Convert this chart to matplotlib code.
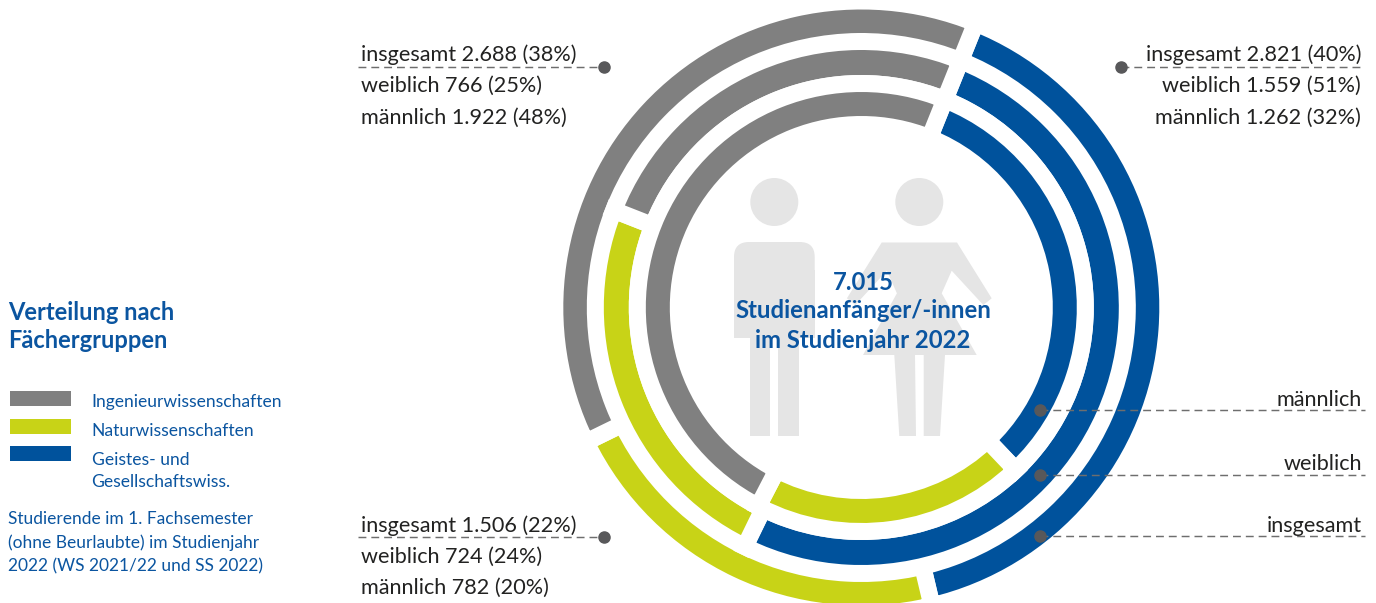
import matplotlib
matplotlib.use('Agg')
import matplotlib.pyplot as plt
from matplotlib.patches import Circle, Polygon, FancyBboxPatch, Rectangle

plt.rcParams['font.family'] = ['Lato', 'DejaVu Sans']

# order in each ring: Geistes, Natur, Ingenieur (clockwise from the top gap)
fields = ['Geistes- und\nGesellschaftswiss.', 'Naturwissenschaften', 'Ingenieurwissenschaften']
colors = ['#00529C', '#C8D317', '#808080']
insgesamt = [2821, 1506, 2688]
weiblich = [1559, 724, 766]
maennlich = [1262, 782, 1922]
pct_ges = [40, 22, 38]
pct_w = [51, 24, 25]
pct_m = [32, 20, 48]

BLUE = '#0B55A0'
DARK = '#222221'
DOT = '#58585A'
SIL = '#E5E5E5'


def num(v):
    return f'{v:,}'.replace(',', '.')


fig = plt.figure(figsize=(13.76, 6.03), dpi=100)
ax = fig.add_axes([0, 0, 1, 1])

# silhouettes behind the rings
ax.add_patch(Circle((774.3, 202), 24, fc=SIL, ec='none', zorder=1))
ax.add_patch(FancyBboxPatch((749, 257), 50.7, 66, boxstyle='round,pad=15', fc=SIL, ec='none', zorder=1))
ax.add_patch(Rectangle((734, 270), 80.7, 68, fc=SIL, ec='none', zorder=1))
ax.add_patch(Rectangle((750, 330), 20, 106, fc=SIL, ec='none', zorder=1))
ax.add_patch(Rectangle((778.3, 330), 20.4, 106, fc=SIL, ec='none', zorder=1))
ax.add_patch(Circle((919.3, 202), 24, fc=SIL, ec='none', zorder=1))
dress = [(881.7, 242.5), (957, 242.5), (991.7, 298.3), (983.3, 305), (951.7, 270.7), (941.7, 293.3),
         (976.7, 355), (863, 355), (896.9, 293.3), (886.9, 270.7), (855.3, 305), (846.9, 298.3)]
ax.add_patch(Polygon(dress, fc=SIL, ec='none', zorder=1))
ax.add_patch(Polygon([(894.3, 355), (915, 355), (916, 436), (899.3, 436)], fc=SIL, ec='none', zorder=1))
ax.add_patch(Polygon([(923.7, 355), (945, 355), (940, 436), (923.7, 436)], fc=SIL, ec='none', zorder=1))

# rings: white edge makes the gaps, so radius and width are padded by it
cx, cy = 861.3, 307.5
gap = 17
rings = [(insgesamt, 298, 273.5), (weiblich, 257.5, 232.5), (maennlich, 215.5, 191.5)]
for vals, r_out, r_in in rings:
    ax.pie(vals, colors=colors, startangle=-68.1, counterclock=True, center=(cx, cy),
           radius=r_out + gap / 2,
           wedgeprops=dict(width=r_out - r_in + gap, edgecolor='white', linewidth=gap * 0.72, zorder=2))

ax.set_xlim(0, 1376)
ax.set_ylim(603, 0)
ax.set_aspect('auto')
ax.axis('off')

# leader lines
dash = dict(color='#6E6E6E', lw=1.05, dashes=(5.4, 3.4), zorder=3)
leaders = [(358, 604, 67), (1121, 1364, 67), (358, 604, 537),
           (1040, 1365, 410), (1040, 1365, 475), (1040, 1365, 536)]
dots = [(604, 67), (1121, 67), (604, 537), (1040, 410), (1040, 475), (1040, 536)]
for x0, x1, y in leaders:
    ax.plot([x0, x1], [y, y], **dash)
for x, y in dots:
    ax.plot(x, y, 'o', ms=8, color=DOT, zorder=4)

FS = 15.6


def block(x, ys, i, ha):
    lines = [f'insgesamt {num(insgesamt[i])} ({pct_ges[i]}%)',
             f'weiblich {num(weiblich[i])} ({pct_w[i]}%)',
             f'männlich {num(maennlich[i])} ({pct_m[i]}%)']
    for y, t in zip(ys, lines):
        ax.text(x, y, t, ha=ha, va='center', fontsize=FS, color=DARK, zorder=5)


block(361, [54.5, 85.5, 117.5], 2, 'left')
block(1361, [54.5, 85.5, 117.5], 0, 'right')
block(361, [525.5, 556.5, 587.5], 1, 'left')

for y, t in zip([400.5, 463.5, 526.5], ['männlich', 'weiblich', 'insgesamt']):
    ax.text(1362, y, t, ha='right', va='center', fontsize=FS, color=DARK, zorder=5)

# centre text
for y, t in zip([282, 311, 340], ['7.015', 'Studienanfänger/-innen', 'im Studienjahr 2022']):
    ax.text(863, y, t, ha='center', va='center', fontsize=17.2, fontweight='bold', color=BLUE, zorder=5)

# legend column
ax.text(8, 312, 'Verteilung nach', va='center', fontsize=17, fontweight='bold', color=BLUE)
ax.text(8, 341, 'Fächergruppen', va='center', fontsize=17, fontweight='bold', color=BLUE)
legend_rows = [(2, 391, 401.5), (1, 419, 430.5), (0, 446, 471)]
for i, y, ty in legend_rows:
    ax.add_patch(Rectangle((10, y), 61, 14.5, fc=colors[i], ec='none'))
    ax.text(91.5, ty, fields[i], va='center', fontsize=12.6, color=BLUE, linespacing=1.5)
for y, t in zip([518.5, 542.5, 566.5], ['Studierende im 1. Fachsemester', '(ohne Beurlaubte) im Studienjahr',
                                        '2022 (WS 2021/22 und SS 2022)']):
    ax.text(8, y, t, va='center', fontsize=12.5, color=BLUE)

fig.savefig('out.png', dpi=100)
